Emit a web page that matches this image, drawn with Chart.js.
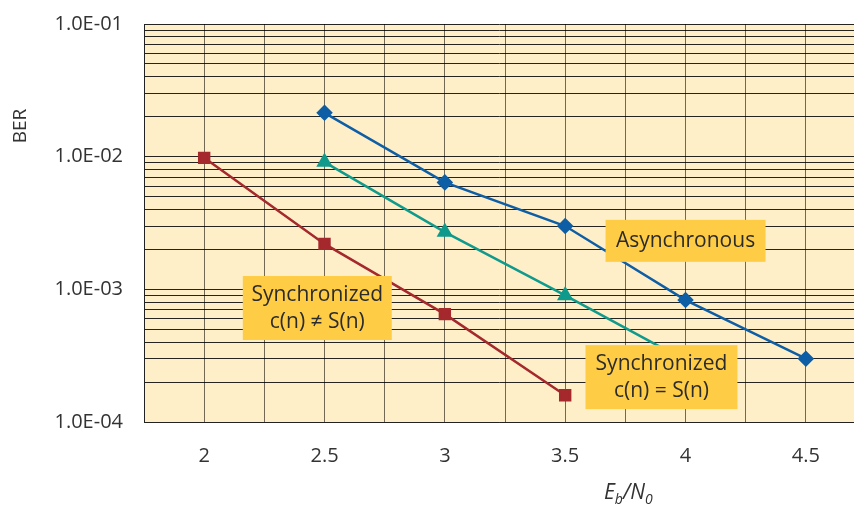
<!DOCTYPE html>
<html>
<head>
<meta charset="utf-8">
<script src="https://cdn.jsdelivr.net/npm/chart.js@4/dist/chart.umd.min.js"></script>
<style>
  html, body { margin: 0; padding: 0; background: #fff; }
  #wrap { width: 854px; height: 506px; }
</style>
</head>
<body>
<div id="wrap"><canvas id="ber-chart" width="854" height="506"></canvas></div>
<script>
// Eb/N0 values
var ebno = [2, 2.5, 3, 3.5, 4, 4.5];

// BER per curve, null where no point
var asyncBer = [null, 0.0214, 0.0064, 0.0030, 0.00083, 0.00030];
var syncEqBer = [null, 0.0091, 0.0027, 0.00090, 0.00029, null];
var syncNeBer = [0.0098, 0.0022, 0.00065, 0.000159, null, null];

var yTickLabels = ['1.0E-04', '1.0E-03', '1.0E-02', '1.0E-01'];

function toPoints(arr) {
    var pts = [];
    for (var i = 0; i < arr.length; i++) {
        if (arr[i] !== null) pts.push({x: ebno[i], y: arr[i]});
    }
    return pts;
}

var FONT = '"Open Sans", "DejaVu Sans", sans-serif';

var plotBg = {
    id: 'plotBg',
    beforeDraw: function (chart) {
        var a = chart.chartArea, ctx = chart.ctx;
        ctx.save();
        ctx.fillStyle = '#FFEFC9';
        ctx.fillRect(a.left, a.top, a.right - a.left, a.bottom - a.top);
        ctx.restore();
    }
};

// label boxes anchored in data coordinates
var boxes = [
    {x: 4.0, y: 0.00232, w: 160, h: 42, lines: ['Asynchronous']},
    {x: 3.9, y: 0.000218, w: 152, h: 64, lines: ['Synchronized', 'c(n) = S(n)']},
    {x: 2.47, y: 0.000723, w: 149, h: 64, lines: ['Synchronized', 'c(n) \u2260 S(n)']}
];

var annotations = {
    id: 'annotations',
    afterDraw: function (chart) {
        var ctx = chart.ctx, xs = chart.scales.x, ys = chart.scales.y;
        ctx.save();
        boxes.forEach(function (b) {
            var cx = xs.getPixelForValue(b.x), cy = ys.getPixelForValue(b.y);
            ctx.fillStyle = '#FFCD45';
            ctx.fillRect(cx - b.w / 2, cy - b.h / 2, b.w, b.h);
            ctx.fillStyle = '#2b2b2b';
            ctx.font = '21px ' + FONT;
            ctx.textAlign = 'center';
            ctx.textBaseline = 'middle';
            var lh = 27;
            var y0 = cy - (b.lines.length - 1) * lh / 2;
            b.lines.forEach(function (t, i) {
                ctx.fillText(t, cx, y0 + i * lh);
            });
        });

        // y axis title
        ctx.save();
        ctx.translate(21, 126);
        ctx.rotate(-Math.PI / 2);
        ctx.font = '19px ' + FONT;
        ctx.fillStyle = '#333';
        ctx.textAlign = 'center';
        ctx.textBaseline = 'middle';
        ctx.fillText('BER', 0, 0);
        ctx.restore();

        // x axis title Eb/N0
        ctx.fillStyle = '#333';
        ctx.textAlign = 'left';
        ctx.textBaseline = 'alphabetic';
        var x = 604, base = 499;
        ctx.font = 'italic 21px ' + FONT;
        ctx.fillText('E', x, base); x += ctx.measureText('E').width;
        ctx.font = 'italic 14px ' + FONT;
        ctx.fillText('b', x, base + 5); x += ctx.measureText('b').width;
        ctx.font = 'italic 21px ' + FONT;
        ctx.fillText('/N', x, base); x += ctx.measureText('/N').width;
        ctx.font = 'italic 14px ' + FONT;
        ctx.fillText('0', x, base + 5);
        ctx.restore();
    }
};

var ctx = document.getElementById('ber-chart');

new Chart(ctx, {
    type: 'line',
    data: {
        datasets: [
            {
                label: 'Asynchronous',
                data: toPoints(asyncBer),
                borderColor: '#0E5EA6',
                backgroundColor: '#0E5EA6',
                borderWidth: 2.5,
                pointStyle: 'rectRot',
                pointRadius: 6.5,
                tension: 0
            },
            {
                label: 'Synchronized c(n) = S(n)',
                data: toPoints(syncEqBer),
                borderColor: '#109A8C',
                backgroundColor: '#109A8C',
                borderWidth: 2.5,
                pointStyle: 'triangle',
                pointRadius: 7,
                tension: 0
            },
            {
                label: 'Synchronized c(n) != S(n)',
                data: toPoints(syncNeBer),
                borderColor: '#A4282C',
                backgroundColor: '#A4282C',
                borderWidth: 2.5,
                pointStyle: 'rect',
                pointRadius: 7,
                tension: 0
            }
        ]
    },
    options: {
        responsive: false,
        animation: false,
        events: [],
        layout: { autoPadding: false, padding: { top: 24, right: 0, bottom: 0, left: 0 } },
        plugins: {
            legend: { display: false },
            tooltip: { enabled: false }
        },
        scales: {
            x: {
                type: 'linear',
                min: 1.75,
                max: 4.7,
                afterFit: function (s) {
                    s.height = 84;
                    s.paddingLeft = 0;
                    s.paddingRight = 0;
                },
                afterBuildTicks: function (s) {
                    var t = [];
                    for (var v = 1.75; v <= 4.5 + 1e-9; v += 0.25) t.push({value: Math.round(v * 100) / 100});
                    s.ticks = t;
                },
                grid: {
                    color: 'rgba(40,30,20,0.65)',
                    lineWidth: 1,
                    drawTicks: false
                },
                border: { display: true, color: '#222', width: 1 },
                ticks: {
                    autoSkip: false,
                    maxRotation: 0,
                    padding: 22,
                    color: '#333',
                    font: { family: FONT, size: 20 },
                    callback: function (v) {
                        return Math.abs(v * 2 - Math.round(v * 2)) < 1e-6 ? String(v) : '';
                    }
                }
            },
            y: {
                type: 'logarithmic',
                min: 0.0001,
                max: 0.1,
                afterFit: function (s) {
                    s.width = 144;
                    s.paddingTop = 0;
                    s.paddingBottom = 0;
                },
                afterBuildTicks: function (s) {
                    var t = [];
                    for (var e = -4; e <= -2; e++) {
                        for (var m = 1; m <= 9; m++) t.push({value: m * Math.pow(10, e)});
                    }
                    t.push({value: 0.1});
                    s.ticks = t;
                },
                grid: {
                    color: 'rgba(0,0,0,0.85)',
                    lineWidth: 1,
                    drawTicks: false
                },
                border: { display: true, color: '#222', width: 1 },
                ticks: {
                    autoSkip: false,
                    padding: 21,
                    color: '#333',
                    font: { family: FONT, size: 20 },
                    callback: function (v) {
                        var e = Math.round(Math.log10(v));
                        if (Math.abs(v - Math.pow(10, e)) / v < 1e-6) return yTickLabels[e + 4];
                        return '';
                    }
                }
            }
        }
    },
    plugins: [plotBg, annotations]
});
</script>
</body>
</html>
